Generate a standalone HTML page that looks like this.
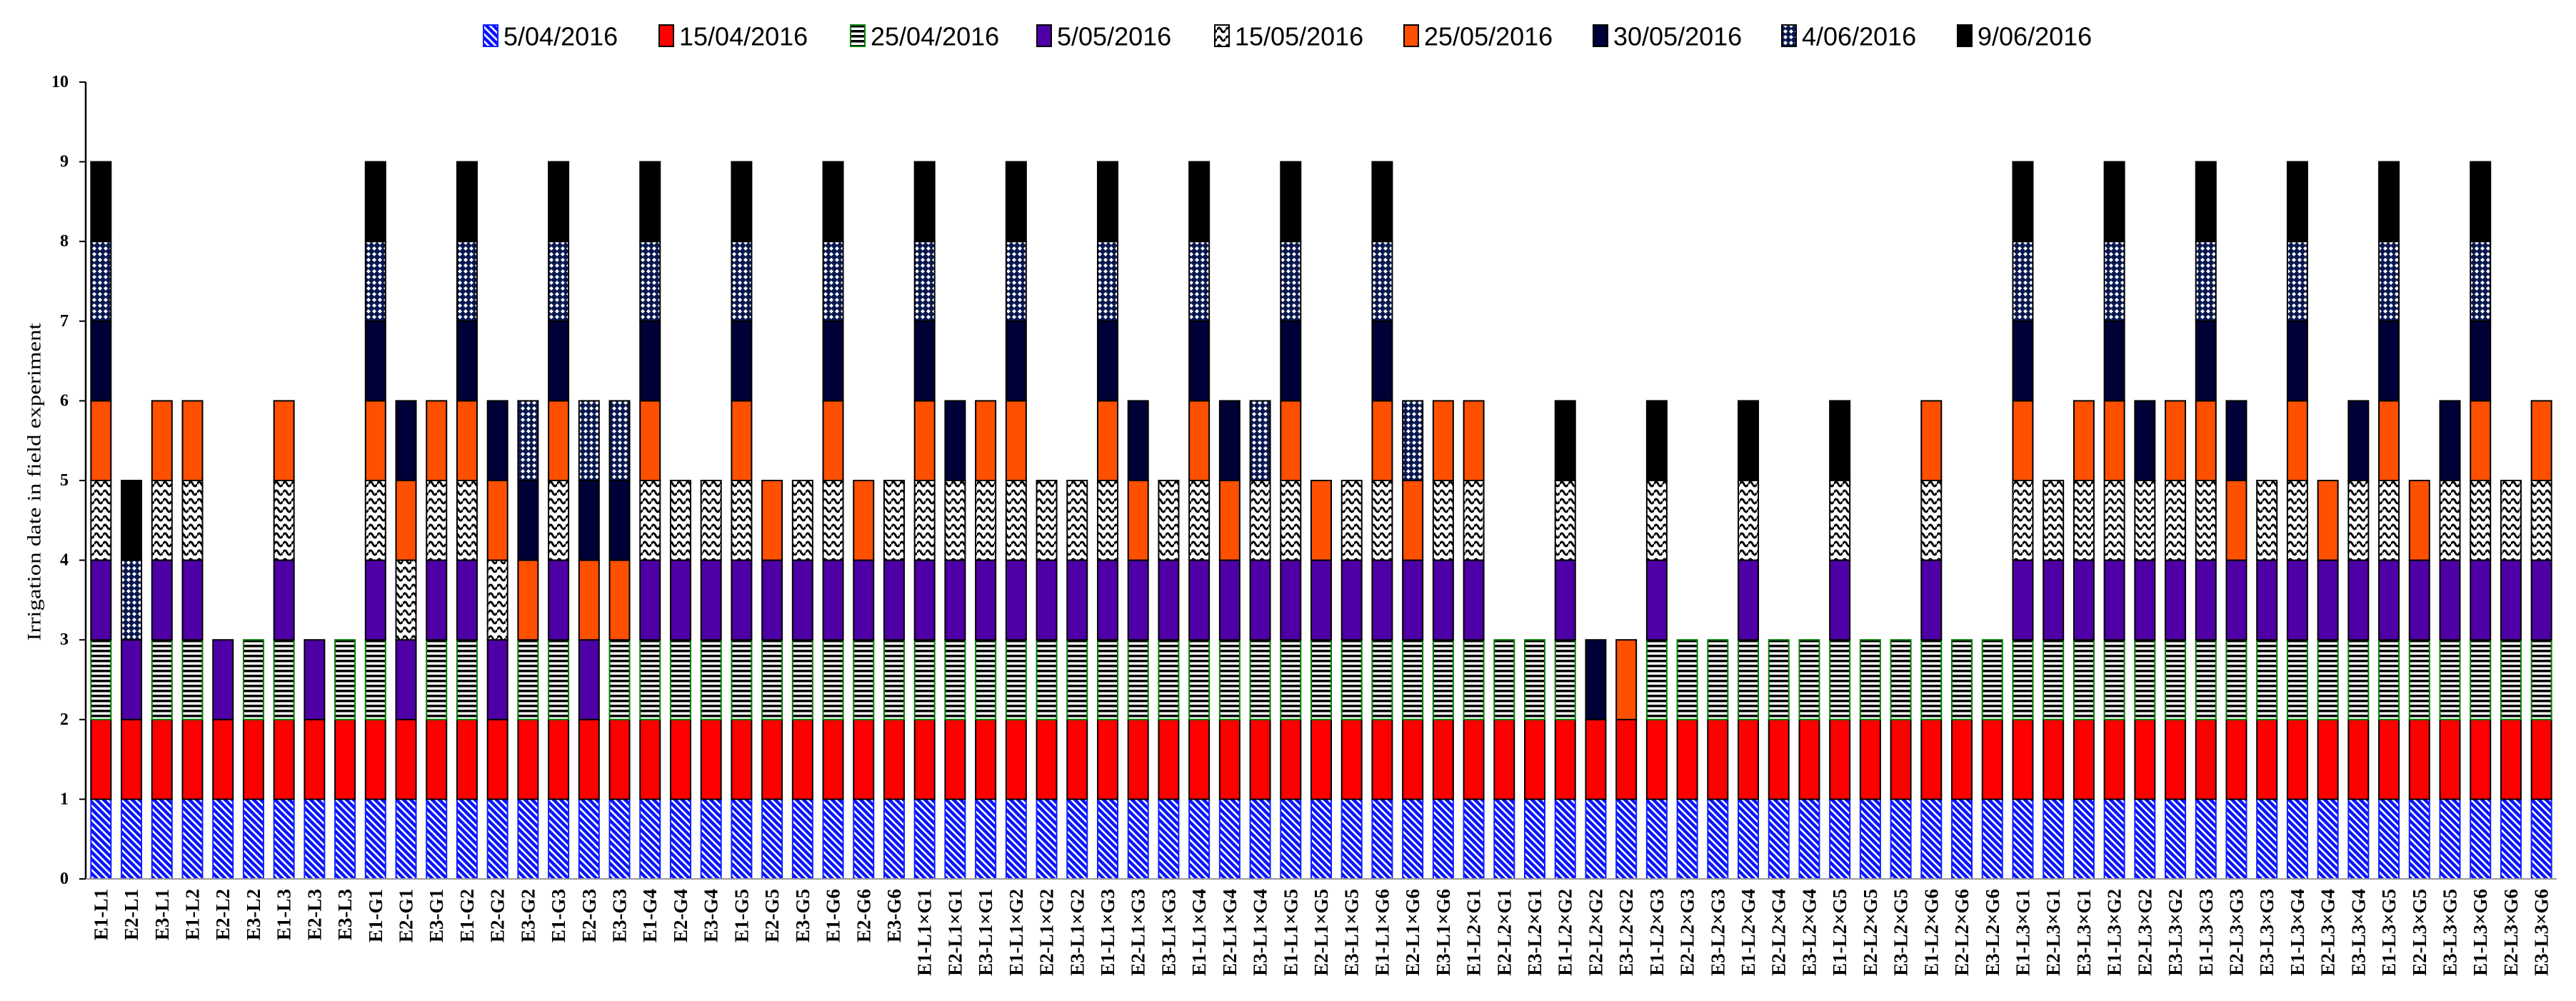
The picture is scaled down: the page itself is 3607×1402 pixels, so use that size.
<!DOCTYPE html>
<html><head><meta charset="utf-8"><style>
html,body{margin:0;padding:0;background:#fff;}
svg{display:block;}
</style></head><body>
<svg id="chart" width="3607" height="1402" viewBox="0 0 3607 1402" xmlns="http://www.w3.org/2000/svg">
<defs>
<pattern id="pA" width="10" height="10" patternUnits="userSpaceOnUse"><rect width="10" height="10" fill="#0a14ff"/><path d="M-2,-2 L12,12 M-2,8 L2,12 M8,-2 L12,2" stroke="#fff" stroke-width="2.6"/></pattern>
<pattern id="pC" width="8" height="7" patternUnits="userSpaceOnUse"><rect width="8" height="7" fill="#fff"/><rect y="0" width="8" height="3.5" fill="#000"/></pattern>
<pattern id="pE" width="12" height="12" patternUnits="userSpaceOnUse"><rect width="12" height="12" fill="#fff"/><path d="M0,6 Q3,0 6,6 T12,6" fill="none" stroke="#000" stroke-width="3"/></pattern>
<pattern id="pH" width="8" height="8" patternUnits="userSpaceOnUse"><rect width="8" height="8" fill="#0a1850"/><path d="M4,1 L7,4 L4,7 L1,4 Z" fill="#fff"/></pattern>
</defs>
<g id="legend"></g>
<g id="yaxis"></g>
<g id="bars"></g>
<g id="xaxis"></g>
<text transform="translate(48,675) rotate(-90)" text-anchor="middle" dominant-baseline="central" font-family="Liberation Serif, serif" font-size="26" textLength="445" lengthAdjust="spacingAndGlyphs">Irrigation date in field experiment</text>
</svg>
<script>
const categories = ["E1-L1","E2-L1","E3-L1","E1-L2","E2-L2","E3-L2","E1-L3","E2-L3","E3-L3",
"E1-G1","E2-G1","E3-G1","E1-G2","E2-G2","E3-G2","E1-G3","E2-G3","E3-G3",
"E1-G4","E2-G4","E3-G4","E1-G5","E2-G5","E3-G5","E1-G6","E2-G6","E3-G6",
"E1-L1×G1","E2-L1×G1","E3-L1×G1","E1-L1×G2","E2-L1×G2","E3-L1×G2","E1-L1×G3","E2-L1×G3","E3-L1×G3",
"E1-L1×G4","E2-L1×G4","E3-L1×G4","E1-L1×G5","E2-L1×G5","E3-L1×G5","E1-L1×G6","E2-L1×G6","E3-L1×G6",
"E1-L2×G1","E2-L2×G1","E3-L2×G1","E1-L2×G2","E2-L2×G2","E3-L2×G2","E1-L2×G3","E2-L2×G3","E3-L2×G3",
"E1-L2×G4","E2-L2×G4","E3-L2×G4","E1-L2×G5","E2-L2×G5","E3-L2×G5","E1-L2×G6","E2-L2×G6","E3-L2×G6",
"E1-L3×G1","E2-L3×G1","E3-L3×G1","E1-L3×G2","E2-L3×G2","E3-L3×G2","E1-L3×G3","E2-L3×G3","E3-L3×G3",
"E1-L3×G4","E2-L3×G4","E3-L3×G4","E1-L3×G5","E2-L3×G5","E3-L3×G5","E1-L3×G6","E2-L3×G6","E3-L3×G6"];
const seriesNames = ["5/04/2016","15/04/2016","25/04/2016","5/05/2016","15/05/2016","25/05/2016","30/05/2016","4/06/2016","9/06/2016"];
const s0504 = [1,1,1,1,1,1,1,1,1, 1,1,1,1,1,1,1,1,1, 1,1,1,1,1,1,1,1,1, 1,1,1,1,1,1,1,1,1, 1,1,1,1,1,1,1,1,1, 1,1,1,1,1,1,1,1,1, 1,1,1,1,1,1,1,1,1, 1,1,1,1,1,1,1,1,1, 1,1,1,1,1,1,1,1,1];
const s1504 = [1,1,1,1,1,1,1,1,1, 1,1,1,1,1,1,1,1,1, 1,1,1,1,1,1,1,1,1, 1,1,1,1,1,1,1,1,1, 1,1,1,1,1,1,1,1,1, 1,1,1,1,1,1,1,1,1, 1,1,1,1,1,1,1,1,1, 1,1,1,1,1,1,1,1,1, 1,1,1,1,1,1,1,1,1];
const s2504 = [1,0,1,1,0,1,1,0,1, 1,0,1,1,0,1,1,0,1, 1,1,1,1,1,1,1,1,1, 1,1,1,1,1,1,1,1,1, 1,1,1,1,1,1,1,1,1, 1,1,1,1,0,0,1,1,1, 1,1,1,1,1,1,1,1,1, 1,1,1,1,1,1,1,1,1, 1,1,1,1,1,1,1,1,1];
const s0505 = [1,1,1,1,1,0,1,1,0, 1,1,1,1,1,0,1,1,0, 1,1,1,1,1,1,1,1,1, 1,1,1,1,1,1,1,1,1, 1,1,1,1,1,1,1,1,1, 1,0,0,1,0,0,1,0,0, 1,0,0,1,0,0,1,0,0, 1,1,1,1,1,1,1,1,1, 1,1,1,1,1,1,1,1,1];
const s1505 = [1,0,1,1,0,0,1,0,0, 1,1,1,1,1,0,1,0,0, 1,1,1,1,0,1,1,0,1, 1,1,1,1,1,1,1,0,1, 1,0,1,1,0,1,1,0,1, 1,0,0,1,0,0,1,0,0, 1,0,0,1,0,0,1,0,0, 1,1,1,1,1,1,1,0,1, 1,0,1,1,0,1,1,1,1];
const s2505 = [1,0,1,1,0,0,1,0,0, 1,1,1,1,1,1,1,1,1, 1,0,0,1,1,0,1,1,0, 1,0,1,1,0,0,1,1,0, 1,1,0,1,1,0,1,1,1, 1,0,0,0,0,1,0,0,0, 0,0,0,0,0,0,1,0,0, 1,0,1,1,0,1,1,1,0, 1,1,0,1,1,0,1,0,1];
const s3005 = [1,0,0,0,0,0,0,0,0, 1,1,0,1,1,1,1,1,1, 1,0,0,1,0,0,1,0,0, 1,1,0,1,0,0,1,1,0, 1,1,0,1,0,0,1,0,0, 0,0,0,0,1,0,0,0,0, 0,0,0,0,0,0,0,0,0, 1,0,0,1,1,0,1,1,0, 1,0,1,1,0,1,1,0,0];
const s0406 = [1,1,0,0,0,0,0,0,0, 1,0,0,1,0,1,1,1,1, 1,0,0,1,0,0,1,0,0, 1,0,0,1,0,0,1,0,0, 1,0,1,1,0,0,1,1,0, 0,0,0,0,0,0,0,0,0, 0,0,0,0,0,0,0,0,0, 1,0,0,1,0,0,1,0,0, 1,0,0,1,0,0,1,0,0];
const s0906 = [1,1,0,0,0,0,0,0,0, 1,0,0,1,0,0,1,0,0, 1,0,0,1,0,0,1,0,0, 1,0,0,1,0,0,1,0,0, 1,0,0,1,0,0,1,0,0, 0,0,0,1,0,0,1,0,0, 1,0,0,1,0,0,0,0,0, 1,0,0,1,0,0,1,0,0, 1,0,0,1,0,0,1,0,0];
const yTicks = [0,1,2,3,4,5,6,7,8,9,10];

const series = [s0504,s1504,s2504,s0505,s1505,s2505,s3005,s0406,s0906];
const fills = ["url(#pA)","#ff0000","url(#pC)","#4e00a6","url(#pE)","#ff5000","#000038","url(#pH)","#000000"];
const strokes = ["#1020ff","#000","#008000","#000","#000","#000","#000","#000","#000"];
const NS = "http://www.w3.org/2000/svg";
const X0 = 120, X1 = 3580, Y0 = 1231, Y10 = 115;
const band = (X1 - X0) / categories.length;
const xc = i => X0 + (i + 0.5) * band;
const yv = v => Y0 - (Y0 - Y10) * v / 10;
const BW = 28;
function mk(tag, attrs, parent) { const e = document.createElementNS(NS, tag); for (const k in attrs) e.setAttribute(k, attrs[k]); parent.appendChild(e); return e; }

// legend
const lg = document.getElementById('legend');
const legendX = [677, 923, 1191, 1452, 1701, 1966, 2231, 2495, 2741];
seriesNames.forEach((n, s) => {
  const g = mk('g', {}, lg);
  
  
  mk('rect', {x: legendX[s], y: 35, width: 20, height: 30, fill: fills[s], stroke: strokes[s], 'stroke-width': 2}, g);
  const t = mk('text', {x: legendX[s] + 28, y: 51, 'dominant-baseline': 'central', 'font-family': 'Liberation Sans Narrow, Liberation Sans, sans-serif', 'font-size': 36}, g);
  t.textContent = n;
});

// y axis
const ya = document.getElementById('yaxis');
mk('line', {x1: X0, y1: Y10, x2: X0, y2: Y0, stroke: '#000', 'stroke-width': 2.5}, ya);
yTicks.forEach(v => {
  mk('line', {x1: X0 - 9, y1: yv(v), x2: X0, y2: yv(v), stroke: '#000', 'stroke-width': 2}, ya);
  const t = mk('text', {x: 96, y: yv(v), 'text-anchor': 'end', 'dominant-baseline': 'central', 'font-family': 'Liberation Serif, serif', 'font-weight': 'bold', 'font-size': 24}, ya);
  
  
  t.textContent = v;
});

// bars
const bg = document.getElementById('bars');
categories.forEach((c, i) => {
  let acc = 0;
  series.forEach((arr, s) => {
    const v = arr[i];
    if (!v) return;
    const r = mk('rect', {x: xc(i) - BW / 2, y: yv(acc + v), width: BW, height: yv(acc) - yv(acc + v), fill: fills[s], stroke: strokes[s], 'stroke-width': 2}, bg);
    
    
    acc += v;
  });
});

// x axis
const xa = document.getElementById('xaxis');
mk('line', {x1: X0, y1: Y0, x2: X1, y2: Y0, stroke: '#999', 'stroke-width': 2}, xa);
categories.forEach((c, i) => {
  const t = mk('text', {transform: `translate(${xc(i)},1245) rotate(-90)`, 'text-anchor': 'end', 'dominant-baseline': 'central', 'font-family': 'Liberation Serif, serif', 'font-weight': 'bold', 'font-size': 27}, xa);
  
  
  t.textContent = c;
});
</script>
</body></html>
